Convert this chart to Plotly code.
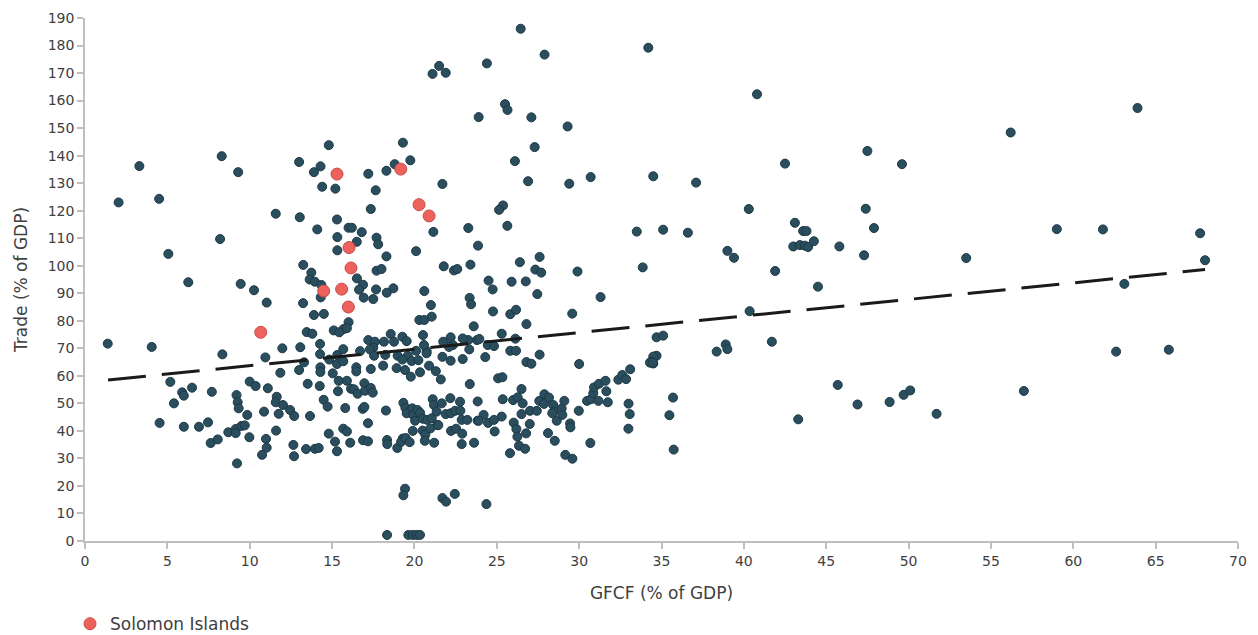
import plotly.graph_objects as go

# Other economies: (GFCF % of GDP, Trade % of GDP)
others = [
    (3.3,136.2),(8.3,139.8),(9.3,134),
    (21.5,172.6),(21.1,169.7),(21.9,170.1),(23.9,154),(14.8,143.8),(19.3,144.7),(13.0,137.7),(14.3,136.1),
    (13.9,134),(17.2,133.4),(18.3,134.5),(18.8,136.9),(19.75,138.3),(21.7,129.7),(14.4,128.7),(15.2,128),(17.65,127.4),
    (26.45,186.1),(24.4,173.5),(27.9,176.7),(34.2,179.2),(25.5,158.7),(25.65,156.6),(27.1,153.9),(29.3,150.6),
    (27.3,143.1),(26.1,138),(26.9,130.7),(29.4,129.8),(30.7,132.2),(34.5,132.5),
    (40.8,162.3),(63.9,157.3),(56.2,148.4),(47.5,141.7),(42.5,137.1),(49.6,136.9),(37.1,130.2),(40.3,120.6),
    (47.4,120.7),(59.0,113.3),(61.8,113.2),(67.7,111.8),(43.1,115.6),(43.6,112.6),(43.8,112.6),(47.9,113.7),
    (36.6,112),(39.0,105.4),(39.4,102.9),(43.0,107),(43.4,107.5),(43.7,107.3),(43.9,106.8),(44.25,108.9),
    (45.8,107),(47.3,103.8),(53.5,102.8),(68.0,102),(41.9,98.1),
    (44.5,92.4),(40.35,83.5),(38.35,68.8),(38.9,71.4),(39.0,69.7),(41.7,72.4),(63.1,93.4),(62.6,68.8),
    (65.8,69.5),(45.7,56.7),(43.3,44.2),(46.9,49.6),(48.85,50.5),(49.7,53.1),(50.1,54.7),(51.7,46.2),(57.0,54.5),
    (2.04,123),(4.5,124.3),(11.58,118.9),(8.2,109.7),(5.06,104.3),(6.27,94),(9.45,93.4),(10.26,91.1),
    (11.03,86.6),(1.38,71.7),(4.05,70.5),(8.34,67.8),(10.95,66.7),(11.98,70),
    (17.35,120.6),(13.04,117.6),(15.3,116.8),(14.1,113.2),(16.0,113.8),(16.2,113.8),(16.8,112.2),(21.15,112.3),
    (23.27,113.7),(15.32,110.4),(16.5,108.7),(17.7,110.2),(17.8,107.8),(15.32,105.6),(20.1,105.3),(23.86,107.3),
    (18.3,103.4),(13.25,100.3),(21.78,99.8),(22.4,98.3),(22.6,98.8),(23.4,100.4),(13.74,97.5),(17.7,98.2),
    (18.0,98.8),(13.64,95),(13.95,94.2),(14.35,93),(16.51,95.4),(16.88,93.1),(16.64,91.3),(17.67,91.4),
    (18.72,91.8),(18.32,90.2),(14.31,88.5),(16.92,88.4),(17.5,87.9),(20.6,90.8),(13.24,86.4),(21.0,85.7),
    (23.35,88.3),(23.44,86),(13.9,82.1),(14.5,82.5),(20.3,80.3),(20.6,80.3),(21.05,81.5),(16.0,79.5),
    (15.7,77),(15.1,76.5),(15.44,75.8),(15.9,77.3),(13.46,75.9),(13.8,75.3),(20.52,74.8),(23.6,78),
    (23.27,73),(23.8,73),(14.27,71.6),(13.07,70.4),(17.2,73),(17.6,72.4),(17.5,70.2),(18.15,72.4),
    (18.56,75.2),(18.76,72.4),(19.27,74.2),(19.53,72.6),(20.1,69.1),(20.74,69),(20.58,71.2),(21.75,72.4),
    (22.2,74),(22.93,73.6),(22.34,71.2),(22.1,70.5),(23.33,69.6),(22.93,66.1),(22.2,65.5),(21.7,66.9),
    (14.27,67.9),(14.83,65.9),(15.32,67.6),(15.68,69.7),(16.7,69),(17.3,69.6),(17.55,67.3),(18.23,67.6),
    (18.98,67.3),(19.6,67.3),(19.27,65.9),(19.83,65.4),(20.24,65.7),(20.74,68.2),(13.3,64.9),
    (25.38,121.9),(25.14,120.3),(25.64,114.5),(33.5,112.4),(35.1,113.1),(26.4,101.3),(27.6,103.2),(27.34,98.6),
    (27.7,97.5),(29.9,97.9),(33.86,99.4),(24.5,94.6),(24.75,91.4),(25.9,94.2),(26.76,94.3),(27.46,89.7),
    (31.3,88.6),(24.77,83.4),(25.82,82.4),(26.17,84),(29.58,82.6),(26.8,78.8),(25.3,75.3),(23.94,73.4),
    (24.45,71.2),(24.83,70.8),(26.13,73.5),(25.82,69.1),(26.17,69.1),(24.3,66.8),(27.6,67.7),(26.8,65),
    (27.1,64.4),(30.0,64.3),(34.7,74),(35.1,74.6),(34.7,67.3),(34.5,67),(34.37,65.1),(34.5,64.5),
    (5.18,57.8),(5.9,54),(6.0,52.8),(6.5,55.7),(5.4,50),(7.7,54.2),(4.53,42.9),(6.0,41.5),(6.92,41.5),
    (7.47,43.1),(7.63,35.6),(8.06,36.9),(9.2,53),(9.27,50.4),(9.33,48.2),(9.85,45.8),(8.7,39.5),(9.15,40.7),
    (9.15,39.2),(9.5,41.8),(9.7,42),(9.98,37.7),(9.23,28.2),(10.0,57.9),(10.36,56.3),(11.1,55.5),(11.64,52.4),
    (11.58,50.4),(12.02,49.4),(10.87,47),(11.76,46.2),(11.6,40.1),(10.99,37.1),(11.03,33.9),(10.75,31.3),(11.86,61.1),
    (13.0,62.1),(14.29,63.1),(14.29,61.4),(15.3,64.3),(15.68,65.3),(15.04,60.9),(16.47,63.1),(16.47,61.6),
    (17.35,62.5),(18.1,63.7),(18.92,62.8),(19.43,62.1),(19.78,59.7),(20.34,61.3),(20.89,63.7),(21.3,61.7),
    (21.6,58.7),(13.52,57.1),(14.25,56.3),(15.4,58.2),(15.9,58.2),(15.36,54.4),(16.15,55.3),(16.33,55.1),
    (16.55,53.5),(16.96,57.3),(17.0,54.6),(17.35,55.6),(17.47,53.9),(23.36,57),(14.49,51.3),(14.73,48.8),
    (15.8,48.3),(16.86,48),(16.96,48.7),(12.45,47.6),(12.7,45.4),(13.66,45.4),(18.27,47.4),(17.18,42.8),
    (14.8,39),(15.68,40.8),(15.9,39.8),(15.18,36.1),(15.3,32.6),(16.1,35.7),(16.88,36.6),(17.18,36.2),
    (12.65,34.9),(12.69,30.8),(13.42,33.4),(13.96,33.5),(14.19,33.8),(18.34,36.7),(18.35,35.2),(18.96,33.8),
    (19.29,37.2),(19.19,36),(19.47,37.4),(19.71,35.9),(19.33,50.2),(19.45,48.4),(19.53,46.4),
    (19.87,48.2),(19.93,45.8),(20.04,43.7),(20.18,47.6),(20.34,46.6),(20.52,44.4),(20.78,44),(21.05,44.6),
    (21.11,51.5),(21.19,49.4),(21.35,47),(21.39,42.1),(21.66,50),(21.9,46.1),(22.18,51.9),(22.2,46.4),
    (22.47,47.3),(22.77,50.6),(22.79,47.3),(22.87,44),(23.21,44),(23.84,50.7),(23.84,43.7),(19.9,40),
    (20.5,40.1),(20.66,38.6),(20.63,36.4),(20.97,40.9),(21.2,35.7),(21.45,42.1),(22.22,40),(22.53,40.8),
    (22.9,39),(22.87,35.2),(23.62,35.7),
    (19.43,19),(19.33,16.6),(21.7,15.6),(21.92,14.3),(22.45,17.1),(18.34,2.2),(19.63,2.2),(19.9,2.2),
    (20.14,2.2),(20.34,2.2),
    (25.08,59.1),(25.34,59.5),(26.5,55.2),(25.36,51.5),(25.99,51.2),(26.27,52.2),(26.57,50),(24.2,45.8),
    (23.9,43.7),(24.47,42.9),(24.83,44),(25.3,45.2),(24.87,39.8),(26.03,43),(26.19,40.7),(26.25,37.9),
    (26.78,39.1),(27.0,42.5),(26.35,34.6),(26.72,33.5),(25.8,31.9),(26.5,46.1),
    (27.02,47.3),(27.43,47.3),(27.58,50.9),(27.89,53.3),(27.87,49.8),(28.17,52.1),(28.43,49.4),(28.45,47),
    (28.37,46.4),(28.64,43.7),(28.94,48.1),(28.98,45.8),(29.1,50.9),(28.11,39.2),(28.52,36.4),(29.16,31.3),
    (29.59,29.9),(29.45,42.7),(29.47,41.3),(29.98,47.3),(30.48,50.9),(30.72,51.5),(30.86,53.7),(30.9,55.8),
    (31.17,50.9),(31.2,57.1),(31.6,58.2),(31.65,54.4),(31.74,50.4),(32.38,58.6),(32.62,60.3),(32.85,58.8),
    (33.1,62.4),(34.3,64.8),(34.47,64.8),(33.0,49.9),(33.07,46.1),(32.99,40.8),(30.68,35.6),(24.37,13.4),
    (35.7,52.1),(35.48,45.7),(35.74,33.2),
]
others_gfcf = [p[0] for p in others]
others_trade = [p[1] for p in others]

# Solomon Islands
solomon_gfcf = [15.3, 19.17, 20.28, 20.89, 16.03, 16.15, 14.49, 15.58, 15.99, 10.67]
solomon_trade = [133.3, 135.1, 122.2, 118.1, 106.6, 99.2, 90.8, 91.5, 85.0, 75.8]

# Linear trend
trend_gfcf = [1.4, 68.0]
trend_trade = [58.5, 98.6]

x_ticks = list(range(0, 75, 5))
y_ticks = list(range(0, 200, 10))

FONT = "DejaVu Sans"
TXT = "#404040"
AX = "#BFBFBF"

fig = go.Figure()
fig.add_trace(go.Scatter(
    x=others_gfcf, y=others_trade, mode="markers", showlegend=False,
    marker=dict(size=9, color="#2A4E5E", line=dict(color="#1C3946", width=1)),
    hoverinfo="x+y"))
fig.add_trace(go.Scatter(
    x=trend_gfcf, y=trend_trade, mode="lines", showlegend=False,
    line=dict(color="#1A1A1A", width=3, dash="38px,16px")))
fig.add_trace(go.Scatter(
    x=solomon_gfcf, y=solomon_trade, mode="markers", name="Solomon Islands",
    marker=dict(size=12, color="#EE625D", line=dict(color="#C94B45", width=1))))

# page body adds an 8px offset, so the figure is sized to compensate
fig.update_layout(
    width=1250, height=627,
    margin=dict(l=77, r=20, t=10, b=94, autoexpand=False),
    paper_bgcolor="white", plot_bgcolor="white",
    font=dict(family=FONT, color=TXT, size=13),
    legend=dict(orientation="h", x=-0.013, xanchor="left", y=-0.159, yanchor="middle",
                font=dict(size=17, color=TXT), bgcolor="rgba(0,0,0,0)"),
)
fig.update_xaxes(
    range=[0, 70], tickvals=x_ticks, ticktext=[str(v) for v in x_ticks],
    showgrid=False, zeroline=False, showline=True, linecolor=AX, linewidth=1.5,
    ticks="outside", ticklen=6, tickcolor=AX, tickwidth=1.5, automargin=False,
    tickfont=dict(size=14, color=TXT),
    title=dict(text="GFCF (% of GDP)", font=dict(size=17, color=TXT), standoff=20),
)
fig.update_yaxes(
    range=[0, 190], tickvals=y_ticks, ticktext=[str(v) for v in y_ticks],
    showgrid=False, zeroline=False, showline=True, linecolor=AX, linewidth=1.5,
    ticks="outside", ticklen=6, tickcolor=AX, tickwidth=1.5, automargin=False,
    tickfont=dict(size=14, color=TXT),
    title=dict(text="Trade (% of GDP)", font=dict(size=17, color=TXT), standoff=16),
)

fig.write_html("out.html")
